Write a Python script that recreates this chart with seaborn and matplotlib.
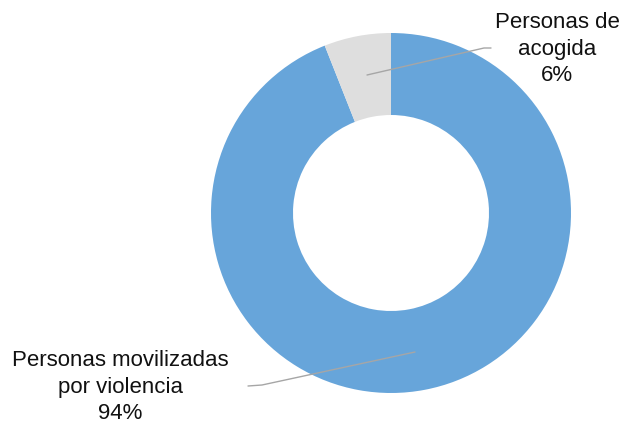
import matplotlib
matplotlib.use("Agg")
import matplotlib.pyplot as plt
import seaborn as sns

categories = ["Personas movilizadas\npor violencia", "Personas de\nacogida"]
values = [94, 6]
colors = ["#67A5DA", "#DEDEDE"]

sns.set_theme(style="white")
plt.rcParams['font.family'] = ['Liberation Sans', 'DejaVu Sans']

W, H = 627, 424
fig = plt.figure(figsize=(W / 100, H / 100), dpi=100)
ax = fig.add_axes([0, 0, 1, 1])

cx, cy, R = 391, H - 213, 180
ax.pie(values, colors=colors, startangle=90, counterclock=False,
       radius=R, center=(cx, cy),
       wedgeprops=dict(width=R - 98, linewidth=0), frame=True)
ax.set_xlim(0, W)
ax.set_ylim(0, H)
ax.set_aspect('equal')
ax.axis('off')

total = sum(values)
labels = [f"{c}\n{round(v / total * 100)}%" for c, v in zip(categories, values)]

line_kw = dict(color="#A6A6A6", lw=1)
# label for small slice
ax.plot([367, 484, 491], [H - 75, H - 48, H - 48], **line_kw)
ax.text(557, H - 49, labels[1], ha='center', va='center', fontsize=16,
        linespacing=1.36, color="#111111")
# label for large slice
ax.plot([415, 262, 248], [H - 352, H - 385, H - 386], **line_kw)
ax.text(120, H - 387, labels[0], ha='center', va='center', fontsize=16,
        linespacing=1.36, color="#111111")

fig.savefig("out.png", dpi=100)
